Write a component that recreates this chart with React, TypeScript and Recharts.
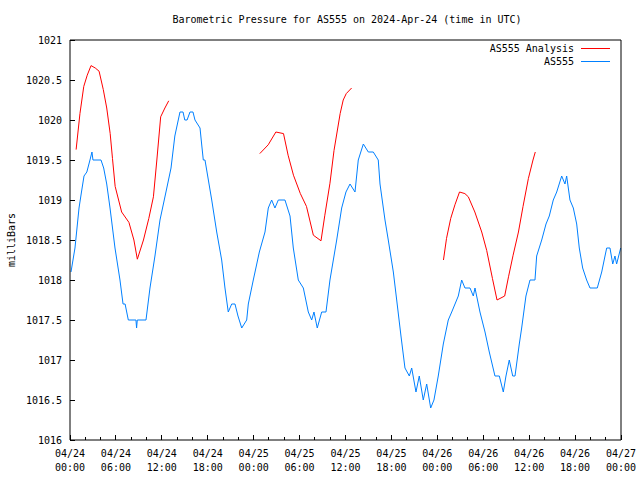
import React from "react";
import { LineChart, Line, XAxis, YAxis, Legend } from "recharts";

// AS555 observations: [hours since 04/24 00:00 UTC, mbar]
const as555: [number, number][] = [
  [0.13, 1018.1], [0.65, 1018.4], [1.18, 1018.9], [1.5, 1019.1], [1.83, 1019.3], [2.2, 1019.35],
  [2.61, 1019.5], [2.87, 1019.6], [3.0, 1019.5], [4.05, 1019.5], [4.4, 1019.4], [4.8, 1019.2],
  [5.23, 1018.9], [5.88, 1018.4], [6.53, 1018.0], [6.93, 1017.7], [7.2, 1017.7], [7.62, 1017.5],
  [8.62, 1017.5], [8.7, 1017.4], [8.79, 1017.5], [9.93, 1017.5], [10.45, 1017.9], [11.1, 1018.3],
  [11.76, 1018.75], [12.54, 1019.1], [13.2, 1019.4], [13.7, 1019.8], [14.37, 1020.1], [14.77, 1020.1],
  [15.0, 1020.0], [15.3, 1020.0], [15.68, 1020.1], [16.07, 1020.1], [16.33, 1020.0], [16.99, 1019.9],
  [17.2, 1019.7], [17.42, 1019.5], [17.64, 1019.5], [18.52, 1019.0], [19.17, 1018.6], [19.82, 1018.25],
  [20.25, 1017.9], [20.68, 1017.6], [21.13, 1017.7], [21.56, 1017.7], [21.95, 1017.55], [22.44, 1017.4],
  [23.09, 1017.5], [23.3, 1017.7], [23.95, 1018.0], [24.74, 1018.35], [25.48, 1018.6], [25.91, 1018.9],
  [26.35, 1019.0], [26.78, 1018.9], [27.22, 1019.0], [28.09, 1019.0], [28.75, 1018.8], [29.18, 1018.4],
  [29.83, 1018.0], [30.49, 1017.9], [31.14, 1017.6], [31.58, 1017.5], [31.88, 1017.6], [32.31, 1017.4],
  [32.89, 1017.6], [33.45, 1017.6], [33.97, 1018.0], [34.85, 1018.5], [35.5, 1018.9], [36.06, 1019.1],
  [36.59, 1019.2], [37.24, 1019.1], [37.67, 1019.5], [38.33, 1019.7], [38.98, 1019.6], [39.63, 1019.6],
  [40.28, 1019.5], [40.51, 1019.2], [41.16, 1018.75], [41.59, 1018.5], [42.25, 1018.1], [42.69, 1017.75],
  [43.25, 1017.3], [43.77, 1016.9], [44.34, 1016.8], [44.65, 1016.9], [45.21, 1016.6], [45.64, 1016.8],
  [46.16, 1016.5], [46.61, 1016.7], [47.13, 1016.4], [47.56, 1016.5], [48.12, 1016.8], [48.78, 1017.2],
  [49.43, 1017.5], [49.88, 1017.6], [50.74, 1017.8], [51.18, 1018.0], [51.61, 1017.9], [52.27, 1017.9],
  [52.7, 1017.8], [52.92, 1017.9], [53.57, 1017.6], [54.23, 1017.35], [54.79, 1017.1], [55.53, 1016.8],
  [56.1, 1016.8], [56.62, 1016.6], [56.97, 1016.8], [57.4, 1017.0], [57.85, 1016.8], [58.15, 1016.8],
  [58.71, 1017.2], [59.02, 1017.4], [59.58, 1017.8], [60.11, 1018.0], [60.76, 1018.0], [60.98, 1018.3],
  [61.64, 1018.5], [62.2, 1018.7], [62.63, 1018.8], [63.15, 1019.0], [63.6, 1019.1], [64.25, 1019.3],
  [64.68, 1019.2], [64.9, 1019.3], [65.33, 1019.0], [65.77, 1018.9], [66.21, 1018.7], [66.55, 1018.4],
  [66.99, 1018.15], [67.51, 1018.0], [67.95, 1017.9], [68.9, 1017.9], [69.48, 1018.1], [69.91, 1018.3],
  [70.13, 1018.4], [70.56, 1018.4], [70.92, 1018.2], [71.21, 1018.3], [71.43, 1018.2], [71.96, 1018.4],
];

// analysis runs, same layout
const analysisRun1: [number, number][] = [
  [0.8, 1019.63], [1.3, 1020.08], [1.8, 1020.42], [2.25, 1020.56], [2.75, 1020.68], [3.3, 1020.65],
  [3.8, 1020.61], [4.35, 1020.38], [4.8, 1020.15], [5.25, 1019.83], [5.55, 1019.52], [5.9, 1019.17],
  [6.75, 1018.85], [7.7, 1018.72], [8.35, 1018.5], [8.8, 1018.26], [9.6, 1018.5], [10.3, 1018.77],
  [10.9, 1019.04], [11.35, 1019.5], [11.85, 1020.04], [12.4, 1020.15], [12.9, 1020.24],
];
const analysisRun2: [number, number][] = [
  [24.8, 1019.58], [25.9, 1019.69], [26.9, 1019.85], [27.9, 1019.83], [28.5, 1019.56], [29.2, 1019.31],
  [30.1, 1019.08], [30.9, 1018.92], [31.8, 1018.56], [32.8, 1018.49], [33.3, 1018.81], [33.97, 1019.21],
  [34.5, 1019.62], [35.3, 1020.08], [35.7, 1020.25], [36.1, 1020.33], [36.8, 1020.4],
];
const analysisRun3: [number, number][] = [
  [48.8, 1018.25], [49.2, 1018.52], [49.75, 1018.77], [50.3, 1018.94], [50.9, 1019.1], [51.6, 1019.08],
  [52.05, 1019.04], [52.9, 1018.85], [53.8, 1018.6], [54.45, 1018.37], [55.2, 1018.02], [55.8, 1017.75],
  [56.8, 1017.8], [57.3, 1018.04], [57.9, 1018.31], [58.6, 1018.6], [59.2, 1018.92], [59.9, 1019.27],
  [60.5, 1019.5], [60.8, 1019.6],
];

const seriesNames = ["AS555 Analysis", "AS555"];
const yTicks = [1016, 1016.5, 1017, 1017.5, 1018, 1018.5, 1019, 1019.5, 1020, 1020.5, 1021];
const xTicks = Array.from({ length: 37 }, (_, i) => i * 2);
const dayLabels = ["04/24", "04/25", "04/26", "04/27"];

const FONT = "'DejaVu Sans Mono', monospace";
const RED = "#ff0000";
const BLUE = "#0080ff";

const rows = (pts: [number, number][]) => pts.map(([t, p]) => ({ t, p }));
const obsRows = rows(as555);
// null rows break the analysis line between runs
const analysisRows = [
  ...rows(analysisRun1),
  { t: 18, p: null },
  ...rows(analysisRun2),
  { t: 42, p: null },
  ...rows(analysisRun3),
];

const BottomTick = (props: any) => {
  const { x, y, payload } = props;
  const v = payload.value;
  const major = v % 6 === 0;
  return (
    <g>
      <line x1={x} x2={x} y1={y} y2={y - (major ? 5 : 3)} stroke="#000" shapeRendering="crispEdges" />
      {major && (
        <text x={x} y={y} textAnchor="middle" fontFamily={FONT} fontSize={10} fill="#000">
          <tspan x={x} dy={17}>{dayLabels[Math.floor(v / 24)]}</tspan>
          <tspan x={x} dy={14}>{String(v % 24).padStart(2, "0")}:00</tspan>
        </text>
      )}
    </g>
  );
};

const TopTick = (props: any) => {
  const { x, y, payload } = props;
  const len = payload.value % 6 === 0 ? 5 : 3;
  return <line x1={x} x2={x} y1={y} y2={y + len} stroke="#000" shapeRendering="crispEdges" />;
};

const LeftTick = (props: any) => {
  const { x, y, payload } = props;
  return (
    <g>
      <line x1={x} x2={x + 5} y1={y} y2={y} stroke="#000" shapeRendering="crispEdges" />
      <text x={x - 8} y={y + 3.5} textAnchor="end" fontFamily={FONT} fontSize={10} fill="#000">
        {String(payload.value)}
      </text>
    </g>
  );
};

const RightTick = (props: any) => {
  const { x, y } = props;
  return <line x1={x} x2={x - 5} y1={y} y2={y} stroke="#000" shapeRendering="crispEdges" />;
};

const YLabel = (props: any) => {
  const { viewBox } = props;
  const cx = viewBox.x + 11;
  const cy = viewBox.y + viewBox.height / 2;
  return (
    <text x={cx} y={cy} transform={`rotate(-90 ${cx} ${cy})`} textAnchor="middle"
      dominantBaseline="central" fontFamily={FONT} fontSize={10} fill="#000">
      milliBars
    </text>
  );
};

const LegendBox = (props: any) => {
  const items = [...(props.payload || [])].sort(
    (a: any, b: any) => seriesNames.indexOf(a.value) - seriesNames.indexOf(b.value)
  );
  return (
    <div style={{ fontFamily: FONT, fontSize: 10, lineHeight: "13px" }}>
      {items.map((entry: any) => (
        <div key={entry.value} style={{ display: "flex", justifyContent: "flex-end", alignItems: "center", height: 13 }}>
          <span>{entry.value}</span>
          <span style={{ width: 29, height: 0, borderTop: `1px solid ${entry.color}`, marginLeft: 7 }} />
        </div>
      ))}
    </div>
  );
};

export default function App() {
  return (
    <div style={{ position: "absolute", left: 0, top: 0, width: 640, height: 480, background: "#fff" }}>
      <div style={{
        position: "absolute", left: 0, top: 13, width: 694, textAlign: "center",
        fontFamily: FONT, fontSize: 10, lineHeight: "13px", color: "#000",
      }}>
        Barometric Pressure for AS555 on 2024-Apr-24 (time in UTC)
      </div>
      <LineChart width={640} height={480} margin={{ top: 0, right: 0, bottom: 0, left: 0 }}>
        <XAxis xAxisId="b" dataKey="t" type="number" domain={[0, 72]} ticks={xTicks} interval={0}
          height={40} tickSize={0} tickMargin={0} tickLine={false} tick={<BottomTick />}
          axisLine={{ stroke: "#000" }} allowDuplicatedCategory={false} />
        <XAxis xAxisId="top" orientation="top" dataKey="t" type="number" domain={[0, 72]} ticks={xTicks}
          interval={0} height={40} tickSize={0} tickMargin={0} tickLine={false} tick={<TopTick />}
          axisLine={{ stroke: "#000" }} />
        <YAxis yAxisId="l" type="number" domain={[1016, 1021]} ticks={yTicks} interval={0} width={70}
          tickSize={0} tickMargin={0} tickLine={false} tick={<LeftTick />} axisLine={{ stroke: "#000" }}
          label={<YLabel />} />
        <YAxis yAxisId="r" orientation="right" type="number" domain={[1016, 1021]} ticks={yTicks}
          interval={0} width={19} tickSize={0} tickMargin={0} tickLine={false} tick={<RightTick />}
          axisLine={{ stroke: "#000" }} />
        <Legend layout="vertical" align="center" verticalAlign="middle" content={<LegendBox />}
          wrapperStyle={{ left: 430, top: 42, width: 180, height: "auto", margin: 0 }} />
        <Line xAxisId="b" yAxisId="l" data={analysisRows} dataKey="p" name={seriesNames[0]} stroke={RED}
          strokeWidth={1} dot={false} activeDot={false} connectNulls={false} isAnimationActive={false} />
        <Line xAxisId="b" yAxisId="l" data={obsRows} dataKey="p" name={seriesNames[1]} stroke={BLUE}
          strokeWidth={1} dot={false} activeDot={false} isAnimationActive={false} />
      </LineChart>
    </div>
  );
}
